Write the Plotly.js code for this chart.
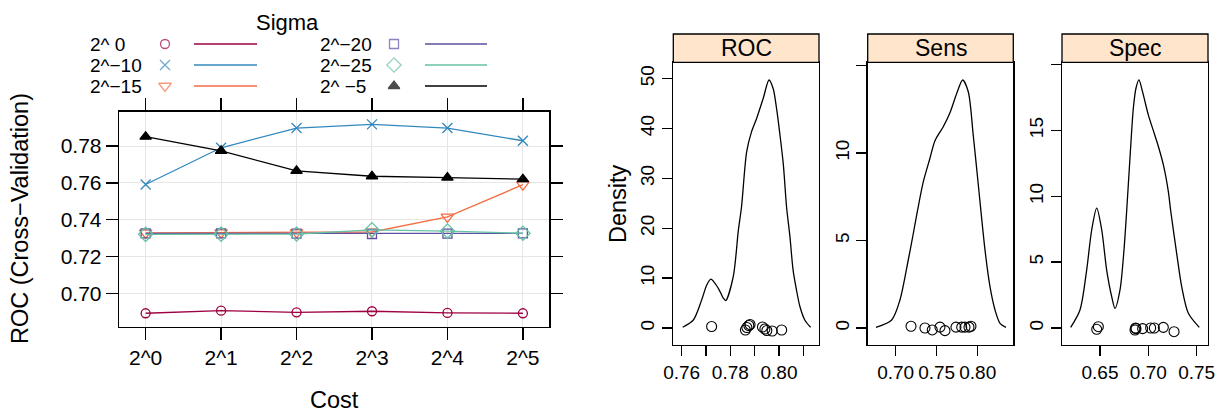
<!DOCTYPE html>
<html><head><meta charset="utf-8">
<script src="https://cdn.plot.ly/plotly-3.0.1.min.js"></script>
<style>html,body{margin:0;padding:0;background:#fff}#chart{width:1228px;height:412px}</style>
</head><body><div id="chart"></div>
<script>
// ---------- data ----------
const costLabels = ['2^0', '2^1', '2^2', '2^3', '2^4', '2^5'];
const sigmaLabels = ['2^ 0', '2^\u221210', '2^\u221215', '2^\u221220', '2^\u221225', '2^ \u22125'];
const rocSigma0   = [0.6891, 0.6905, 0.6896, 0.6902, 0.6893, 0.6891];
const rocSigma10  = [0.7591, 0.7791, 0.7898, 0.7918, 0.7898, 0.7829];
const rocSigma15  = [0.7328, 0.7329, 0.7330, 0.7333, 0.7415, 0.7590];
const rocSigma20  = [0.7325, 0.7325, 0.7324, 0.7322, 0.7324, 0.7325];
const rocSigma25  = [0.7320, 0.7321, 0.7322, 0.7345, 0.7338, 0.7326];
const rocSigma5   = [0.7851, 0.7774, 0.7665, 0.7636, 0.7629, 0.7620];
const yTicksLeft  = [0.70, 0.72, 0.74, 0.76, 0.78];

const panelNames = ['ROC', 'Sens', 'Spec'];
const rocDensX  = [0.7604, 0.7648, 0.7682, 0.7703, 0.7720, 0.7750, 0.7771, 0.7781, 0.7812, 0.7833, 0.7846, 0.7867, 0.7887, 0.7908, 0.7935, 0.7959, 0.7976, 0.7990, 0.8004, 0.8018, 0.8031, 0.8045, 0.8058, 0.8072, 0.8086, 0.8106, 0.8130];
const rocDensY  = [0.14, 1.6, 5.6, 8.6, 9.8, 8.0, 6.0, 5.5, 10.3, 19.6, 24.3, 35.3, 39.3, 42.0, 46.0, 49.7, 48.0, 44.0, 38.7, 32.7, 24.3, 18.3, 11.6, 7.6, 4.3, 1.6, 0.14];
const sensDensX = [0.6760, 0.6951, 0.7052, 0.7154, 0.7215, 0.7266, 0.7337, 0.7418, 0.7479, 0.7580, 0.7662, 0.7744, 0.7817, 0.7885, 0.7946, 0.8007, 0.8089, 0.8150, 0.8211, 0.8272, 0.8345];
const sensDensY = [0.04, 0.46, 1.6, 3.9, 5.4, 6.7, 8.36, 9.7, 10.7, 11.5, 12.3, 13.4, 14.17, 13.5, 11.0, 8.2, 4.46, 2.36, 1.03, 0.27, 0.04];
const specDensX = [0.6197, 0.6293, 0.6362, 0.6414, 0.6466, 0.6518, 0.6569, 0.6621, 0.6655, 0.6707, 0.6748, 0.6776, 0.6810, 0.6845, 0.6872, 0.6903, 0.6941, 0.6999, 0.7051, 0.7103, 0.7155, 0.7207, 0.7231, 0.7293, 0.7345, 0.7414, 0.7527];
const specDensY = [0.05, 1.37, 4.4, 7.44, 9.1, 7.44, 4.4, 2.38, 1.49, 2.89, 5.92, 8.9, 12.9, 16.7, 18.2, 18.83, 17.9, 16.2, 15.0, 13.8, 12.4, 10.35, 8.9, 5.67, 3.14, 1.12, 0.05];

const rocPtsX  = [0.7723, 0.7862, 0.7868, 0.7876, 0.7881, 0.7932, 0.7942, 0.7950, 0.7972, 0.8011];
const rocPtsY  = [0.3, -0.4, 0.1, 0.5, 0.7, 0.2, -0.2, -0.5, -0.6, -0.4];
const sensPtsX = [0.7187, 0.7357, 0.7446, 0.7540, 0.7601, 0.7735, 0.7805, 0.7845, 0.7894, 0.7918];
const sensPtsY = [0.10, 0.00, -0.11, 0.05, -0.15, 0.05, 0.05, 0.05, 0.05, 0.10];
const specPtsX = [0.6466, 0.6483, 0.6862, 0.6868, 0.6872, 0.6941, 0.7024, 0.7062, 0.7155, 0.7266];
const specPtsY = [-0.10, 0.10, -0.15, 0.00, -0.05, -0.05, 0.00, 0.00, 0.05, -0.28];

const rocXTicks  = [0.76, 0.77, 0.78, 0.79, 0.80, 0.81];
const rocXText   = ['0.76', '', '0.78', '', '0.80', ''];
const rocYTicks  = [0, 10, 20, 30, 40, 50];
const sensXTicks = [0.70, 0.75, 0.80];
const sensYTicks = [0, 5, 10, 15];
const sensYText  = ['0', '5', '10', ''];
const specXTicks = [0.65, 0.70, 0.75];
const specYTicks = [0, 5, 10, 15, 20];
const specYText  = ['0', '5', '10', '15', ''];

// ---------- styles ----------
const FONT = 'Liberation Sans, Arial, Helvetica, sans-serif';
const seriesValues = [rocSigma0, rocSigma10, rocSigma15, rocSigma20, rocSigma25, rocSigma5];
const seriesColors = ['#9E0142', '#3288BD', '#F46D43', '#5E4FA2', '#66C2A5', '#000000'];
const seriesSymbols = ['circle-open', 'x-thin-open', 'triangle-down-open', 'square-open', 'diamond-open', 'triangle-up'];
const seriesSizes = [9, 10, 11, 9, 11, 10];

const traces = [];
seriesValues.forEach((vals, i) => {
  traces.push({
    x: costLabels, y: vals, xaxis: 'x', yaxis: 'y', type: 'scatter', mode: 'lines+markers',
    name: sigmaLabels[i], showlegend: false, hoverinfo: 'skip',
    line: {color: seriesColors[i], width: 1.3},
    marker: {symbol: seriesSymbols[i], size: seriesSizes[i], color: seriesColors[i],
             line: {color: seriesColors[i], width: 1.3}}
  });
});

// legend key (layout positions in pixel space of an overlay axis)
const lgTextX = [88, 318], lgMarkX = [165, 394], lgLineX = [[194, 257], [425, 487]], lgRowY = [44, 65, 86];
const lgMX = [], lgMY = [];
seriesValues.forEach((v, i) => { lgMX.push(lgMarkX[Math.floor(i / 3)]); lgMY.push(lgRowY[i % 3]); });
traces.push({
  x: lgMX, y: lgMY, xaxis: 'x5', yaxis: 'y5', type: 'scatter', mode: 'markers', showlegend: false, hoverinfo: 'skip',
  marker: {symbol: seriesSymbols, size: seriesSizes, color: seriesColors, line: {color: seriesColors, width: 1.3}}
});

// density panels
const dens = [[rocDensX, rocDensY, rocPtsX, rocPtsY], [sensDensX, sensDensY, sensPtsX, sensPtsY], [specDensX, specDensY, specPtsX, specPtsY]];
dens.forEach((d, k) => {
  const ax = String(k + 2);
  traces.push({x: d[0], y: d[1], xaxis: 'x' + ax, yaxis: 'y' + ax, type: 'scatter', mode: 'lines',
    line: {color: '#000', width: 1.3, shape: 'spline', smoothing: 0.8}, showlegend: false, hoverinfo: 'skip'});
  traces.push({x: d[2], y: d[3], xaxis: 'x' + ax, yaxis: 'y' + ax, type: 'scatter', mode: 'markers',
    marker: {symbol: 'circle-open', size: 10, color: '#000', line: {color: '#000', width: 1.1}},
    showlegend: false, hoverinfo: 'skip'});
});

const W = 1228, H = 412;
const px = v => v / W, py = v => 1 - v / H;

const baseAxis = {
  showline: true, linecolor: '#000', linewidth: 1.3, ticks: 'outside', tickcolor: '#000', tickwidth: 1.3,
  zeroline: false, showgrid: false, tickfont: {family: FONT, size: 19, color: '#000'}, fixedrange: true
};

const layout = {
  width: W, height: H, margin: {l: 0, r: 0, t: 0, b: 0},
  paper_bgcolor: '#fff', plot_bgcolor: 'rgba(0,0,0,0)',
  font: {family: FONT, color: '#000'}, showlegend: false,
  xaxis: Object.assign({}, baseAxis, {
    domain: [px(119), px(549.3)], anchor: 'y', type: 'category', range: [-0.353, 5.35],
    mirror: 'ticks', ticklen: 12, showgrid: true, gridcolor: '#E6E6E6', gridwidth: 1,
    tickfont: {family: FONT, size: 21, color: '#000'}
  }),
  yaxis: Object.assign({}, baseAxis, {
    domain: [py(326.7), py(111.7)], anchor: 'x', range: [0.6818, 0.7987],
    tickvals: yTicksLeft, tickformat: '.2f', mirror: 'ticks', ticklen: 12,
    showgrid: true, gridcolor: '#E6E6E6', gridwidth: 1,
    tickfont: {family: FONT, size: 21, color: '#000'}
  }),
  xaxis5: {domain: [0, 1], range: [0, W], visible: false, anchor: 'y5', fixedrange: true},
  yaxis5: {domain: [0, 1], range: [H, 0], visible: false, anchor: 'x5', fixedrange: true},
  xaxis2: Object.assign({}, baseAxis, {domain: [px(673.3), px(819)], anchor: 'y2', range: [0.75655, 0.81645],
    tickvals: rocXTicks, ticktext: rocXText, mirror: true, ticklen: 10}),
  yaxis2: Object.assign({}, baseAxis, {domain: [py(345), py(62.3)], anchor: 'x2', range: [-3.41, 53.25],
    tickvals: rocYTicks, tickangle: -90, mirror: true, ticklen: 10}),
  xaxis3: Object.assign({}, baseAxis, {domain: [px(867.7), px(1013.3)], anchor: 'y3', range: [0.6659, 0.8434],
    tickvals: sensXTicks, tickformat: '.2f', mirror: true, ticklen: 10}),
  yaxis3: Object.assign({}, baseAxis, {domain: [py(345), py(62.3)], anchor: 'x3', range: [-0.97, 15.18],
    tickvals: sensYTicks, ticktext: sensYText, tickangle: -90, mirror: true, ticklen: 10}),
  xaxis4: Object.assign({}, baseAxis, {domain: [px(1062), px(1208)], anchor: 'y4', range: [0.6107, 0.7617],
    tickvals: specXTicks, tickformat: '.2f', mirror: true, ticklen: 10}),
  yaxis4: Object.assign({}, baseAxis, {domain: [py(345), py(62.3)], anchor: 'x4', range: [-1.29, 20.17],
    tickvals: specYTicks, ticktext: specYText, tickangle: -90, mirror: true, ticklen: 10}),
  shapes: [], annotations: []
};

// strips
panelNames.forEach((nm, k) => {
  const ax = String(k + 2);
  layout.shapes.push({type: 'rect', xref: 'x' + ax + ' domain', yref: 'y' + ax + ' domain',
    x0: 0, x1: 1, y0: 1, y1: 1.1001, fillcolor: '#FFE5CC', line: {color: '#000', width: 1.3}, layer: 'above'});
  layout.annotations.push({text: nm, xref: 'x' + ax + ' domain', yref: 'y' + ax + ' domain',
    x: 0.5, y: 1.05, xanchor: 'center', yanchor: 'middle', showarrow: false,
    font: {family: FONT, size: 23, color: '#000'}});
});

// legend lines and texts
layout.annotations.push({text: 'Sigma', xref: 'x5', yref: 'y5', x: 287, y: 22, xanchor: 'center', yanchor: 'middle',
  showarrow: false, font: {family: FONT, size: 22, color: '#000'}});
sigmaLabels.forEach((lab, i) => {
  const c = Math.floor(i / 3), r = i % 3;
  layout.annotations.push({text: lab, xref: 'x5', yref: 'y5', x: lgTextX[c], y: lgRowY[r], xanchor: 'left', yanchor: 'middle',
    showarrow: false, font: {family: FONT, size: 19, color: '#000'}});
  layout.shapes.push({type: 'line', xref: 'x5', yref: 'y5', x0: lgLineX[c][0], x1: lgLineX[c][1], y0: lgRowY[r], y1: lgRowY[r],
    line: {color: seriesColors[i], width: 1.3}});
});

// axis titles
layout.annotations.push({text: 'ROC (Cross\u2212Validation)', xref: 'x5', yref: 'y5', x: 20, y: 219, textangle: -90,
  xanchor: 'center', yanchor: 'middle', showarrow: false, font: {family: FONT, size: 23.5, color: '#000'}});
layout.annotations.push({text: 'Cost', xref: 'x5', yref: 'y5', x: 334, y: 400,
  xanchor: 'center', yanchor: 'middle', showarrow: false, font: {family: FONT, size: 23.5, color: '#000'}});
layout.annotations.push({text: 'Density', xref: 'x5', yref: 'y5', x: 618, y: 204, textangle: -90,
  xanchor: 'center', yanchor: 'middle', showarrow: false, font: {family: FONT, size: 23.5, color: '#000'}});

Plotly.newPlot('chart', traces, layout, {displayModeBar: false, staticPlot: true});
</script>
</body></html>
